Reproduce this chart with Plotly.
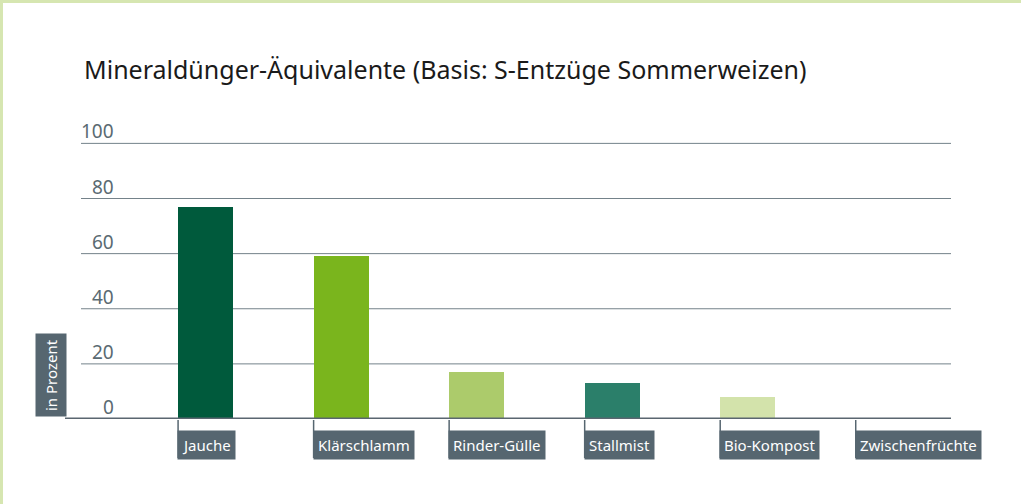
import plotly.graph_objects as go

categories = ["Jauche", "Klärschlamm", "Rinder-Gülle", "Stallmist", "Bio-Kompost", "Zwischenfrüchte"]
values = [77, 59, 17, 13, 8, 0]
colors = ["#005a3c", "#7ab51d", "#accb6b", "#2b7f6a", "#d3e3ab", "#d3e3ab"]
y_ticks = [0, 20, 40, 60, 80, 100]
title = "Mineraldünger-Äquivalente (Basis: S-Entzüge Sommerweizen)"
y_label = "in Prozent"

W, H = 1021, 504
FONT = "Noto Sans"
GREY = "#566670"
BAR_W = 0.406

x_idx = list(range(len(categories)))

fig = go.Figure()
fig.add_trace(go.Bar(x=x_idx, y=values, marker_color=colors, width=BAR_W,
                     marker_line_width=0, hoverinfo="skip"))

py = lambda p: 1 - p / H
px = lambda p: p / W

shapes = []
annotations = []

# border frame
shapes.append(dict(type="rect", xref="paper", yref="paper", x0=0, x1=1, y0=py(3), y1=1,
                   fillcolor="#d6e6b1", line_width=0, layer="below"))
shapes.append(dict(type="rect", xref="paper", yref="paper", x0=0, x1=px(3), y0=0, y1=1,
                   fillcolor="#d6e6b1", line_width=0, layer="below"))

# gridlines
for t in y_ticks[1:]:
    shapes.append(dict(type="line", xref="paper", yref="y", x0=px(81), x1=px(951), y0=t, y1=t,
                       line=dict(color="#74828a", width=1), layer="below"))

# zero line
shapes.append(dict(type="line", xref="paper", yref="y", x0=px(65), x1=px(951), y0=0, y1=0,
                   line=dict(color="#5a6670", width=3), layer="above"))

# y tick labels
for t in y_ticks:
    annotations.append(dict(x=px(116), y=t, xref="paper", yref="y", text=str(t),
                            showarrow=False, xanchor="right", yanchor="bottom", yshift=-3,
                            font=dict(family=FONT, size=19, color="#5a6a72")))

# category labels with ticks
for i, c in enumerate(categories):
    left = i - BAR_W / 2
    shapes.append(dict(type="line", xref="x", yref="paper", x0=left, x1=left,
                       y0=py(420), y1=py(458), line=dict(color=GREY, width=1.5)))
    annotations.append(dict(x=left, y=py(444.5), xref="x", yref="paper", text=c,
                            showarrow=False, xanchor="left", yanchor="middle",
                            bgcolor=GREY, borderpad=4, xshift=-1,
                            font=dict(family=FONT, size=15, color="white")))

# y axis label box
annotations.append(dict(x=px(51), y=py(375), xref="paper", yref="paper", text=y_label,
                        showarrow=False, textangle=-90, xanchor="center", yanchor="middle",
                        bgcolor=GREY, borderpad=5,
                        font=dict(family=FONT, size=15, color="white")))

# title
annotations.append(dict(x=px(82), y=py(69), xref="paper", yref="paper", text=title,
                        showarrow=False, xanchor="left", yanchor="middle",
                        font=dict(family=FONT, size=25, color="#1a1a1a")))

fig.update_layout(
    width=W, height=H,
    margin=dict(l=0, r=0, t=0, b=0),
    paper_bgcolor="white", plot_bgcolor="white",
    showlegend=False,
    bargap=0,
    xaxis=dict(domain=[px(66), px(951)], range=[-1.03, 5.5], showticklabels=False,
               showgrid=False, zeroline=False, fixedrange=True),
    yaxis=dict(domain=[py(419), py(142)], range=[0, 100.5], tickvals=y_ticks,
               showticklabels=False, showgrid=False,
               zeroline=False, fixedrange=True),
    shapes=shapes,
    annotations=annotations,
)

fig.write_html("out.html", config={"displayModeBar": False},
               post_script="document.body.style.margin='0';document.body.style.overflow='hidden';")
